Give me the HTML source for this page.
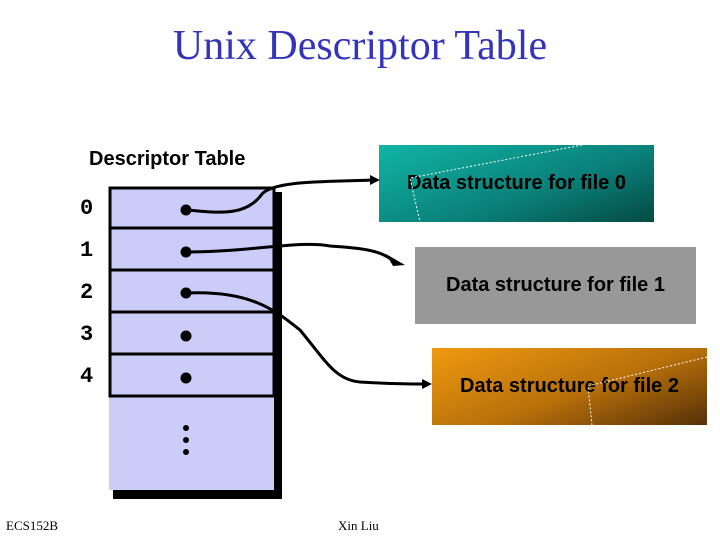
<!DOCTYPE html>
<html><head><style>
body{margin:0;width:720px;height:540px;background:#fff;position:relative;overflow:hidden;font-family:"Liberation Sans",sans-serif}
.t{position:absolute;left:0;width:720px;top:22px;text-align:center;font-family:"Liberation Serif",serif;font-size:42px;color:#3333bb}
.b{position:absolute;font-weight:bold;font-size:20px;color:#000;display:flex;align-items:center;justify-content:center}
.n{position:absolute;left:80px;font-family:"Liberation Mono",monospace;font-weight:bold;font-size:22px}
.f{position:absolute;bottom:6px;font-family:"Liberation Serif",serif;font-size:13px}
</style></head><body>
<div class="t">Unix Descriptor Table</div>
<div style="position:absolute;left:89px;top:148px;font-size:20px;font-weight:bold">Descriptor Table</div>
<div class="b" style="left:379px;top:145px;width:275px;height:77px;background:linear-gradient(160deg,#10b5a5,#0a7f78 60%,#044a44)">Data structure for file 0</div>
<div class="b" style="left:415px;top:247px;width:281px;height:77px;background:#989898">Data structure for file 1</div>
<div class="b" style="left:432px;top:348px;width:275px;height:77px;background:linear-gradient(160deg,#f09a10,#b8700a 55%,#553008)">Data structure for file 2</div>
<div class="n" style="top:196px">0</div>
<div class="n" style="top:238px">1</div>
<div class="n" style="top:280px">2</div>
<div class="n" style="top:322px">3</div>
<div class="n" style="top:364px">4</div>
<svg width="720" height="540" style="position:absolute;left:0;top:0">
<rect x="113" y="192" width="169" height="307" fill="#000"/>
<rect x="109" y="187" width="165" height="303" fill="#ccccf8"/>
<g stroke="#000" stroke-width="3" fill="none">
<rect x="110" y="188" width="164" height="208"/>
<line x1="110" y1="228" x2="274" y2="228"/><line x1="110" y1="270" x2="274" y2="270"/><line x1="110" y1="312" x2="274" y2="312"/><line x1="110" y1="354" x2="274" y2="354"/>
<path d="M186 210 C215 212 245 218 262 194 C275 180 330 182 372 180"/>
<path d="M186 252 C250 252 300 240 330 246 C360 248 380 250 392 260"/>
<path d="M186 293 C250 290 275 310 300 330 C325 360 335 380 360 382 C390 384 410 384 425 384"/>
</g>
<g fill="#000">
<circle cx="186" cy="210" r="5.5"/><circle cx="186" cy="252" r="5.5"/><circle cx="186" cy="293" r="5.5"/><circle cx="186" cy="336" r="5.5"/><circle cx="186" cy="378" r="5.5"/>
<circle cx="186" cy="428" r="3"/><circle cx="186" cy="440" r="3"/><circle cx="186" cy="452" r="3"/>
<polygon points="370,175 380,180 370,185"/><polygon points="386,254 405,265 393,266"/><polygon points="422,379 432,384 422,389"/>
</g>
<g stroke="#fff" stroke-width="1" stroke-dasharray="2,2" fill="none">
<path d="M582 145 L410 178 L420 222"/><path d="M707 357 L588 386 L592 425"/>
</g>
</svg>
<div class="f" style="left:6px">ECS152B</div>
<div class="f" style="left:338px">Xin Liu</div>
</body></html>
